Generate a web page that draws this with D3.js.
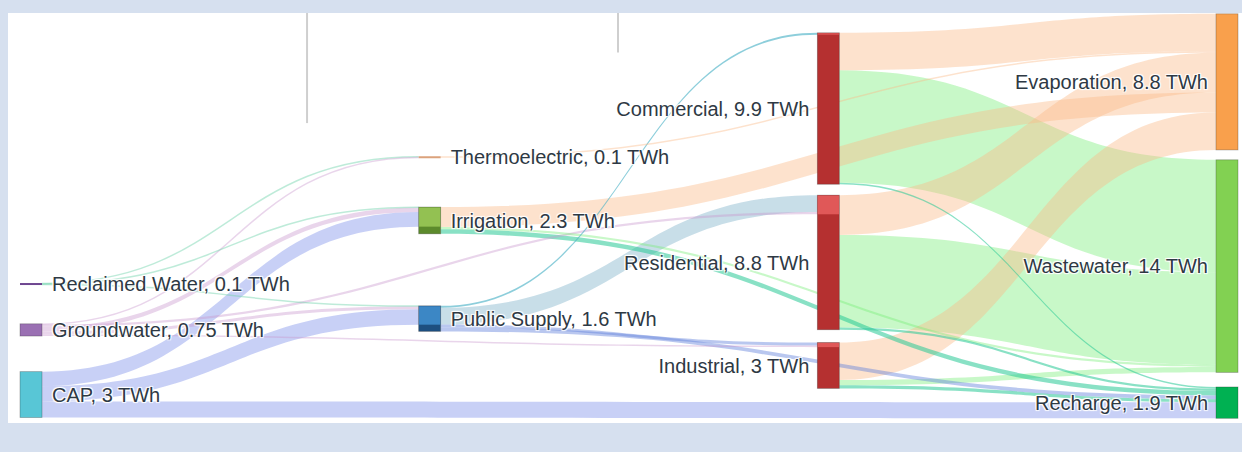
<!DOCTYPE html>
<html>
<head>
<meta charset="utf-8">
<script src="https://cdn.jsdelivr.net/npm/d3@7"></script>
<style>
  html, body { margin: 0; padding: 0; background: #d6e0ef; }
  svg { display: block; }
  .lbl { font-family: "Liberation Sans", Arial, sans-serif; font-size: 20px; fill: #2e3944;
         text-shadow: 1px 1px 1px #fff, -1px -1px 1px #fff, 1px -1px 1px #fff, -1px 1px 1px #fff; }
</style>
</head>
<body>
<svg id="chart" width="1242" height="452"></svg>
<script>
// ---------------- DATA ----------------
const nodeNames = ["Reclaimed Water", "Groundwater", "CAP", "Thermoelectric", "Irrigation", "Public Supply",
                   "Commercial", "Residential", "Industrial", "Evaporation", "Wastewater", "Recharge"];
const nodeValueLabels = ["0.1", "0.75", "3", "0.1", "2.3", "1.6", "9.9", "8.8", "3", "8.8", "14", "1.9"];
const unit = "TWh";

const linkSource = ["Reclaimed Water", "Reclaimed Water", "Reclaimed Water",
                    "Groundwater", "Groundwater", "Groundwater", "Groundwater", "Groundwater",
                    "CAP", "CAP", "CAP",
                    "Thermoelectric",
                    "Irrigation", "Irrigation", "Irrigation",
                    "Public Supply", "Public Supply", "Public Supply", "Public Supply",
                    "Commercial", "Commercial", "Commercial",
                    "Residential", "Residential", "Residential",
                    "Industrial", "Industrial", "Industrial"];
const linkTarget = ["Thermoelectric", "Irrigation", "Public Supply",
                    "Thermoelectric", "Irrigation", "Public Supply", "Residential", "Industrial",
                    "Irrigation", "Public Supply", "Recharge",
                    "Evaporation",
                    "Evaporation", "Wastewater", "Recharge",
                    "Commercial", "Residential", "Industrial", "Recharge",
                    "Evaporation", "Wastewater", "Recharge",
                    "Evaporation", "Wastewater", "Recharge",
                    "Evaporation", "Wastewater", "Recharge"];
const linkValue  = [0.05, 0.03, 0.03,
                    0.05, 0.30, 0.20, 0.15, 0.10,
                    0.95, 1.00, 1.05,
                    0.10,
                    1.30, 0.15, 0.30,
                    0.12, 1.10, 0.20, 0.25,
                    2.45, 7.35, 0.10,
                    2.60, 6.05, 0.15,
                    2.45, 0.35, 0.20];

// ---------------- LAYOUT (fixed arrangement, node centres as fractions, like Plotly node.y) ----------------
const nodeYFrac = {
  "Reclaimed Water": 0.668, "Groundwater": 0.782, "CAP": 0.942,
  "Thermoelectric": 0.354, "Irrigation": 0.511, "Public Supply": 0.754,
  "Commercial": 0.234, "Residential": 0.615, "Industrial": 0.870,
  "Evaporation": 0.168, "Wastewater": 0.624, "Recharge": 0.962
};
const W = 1242, H = 452;
const plot = { left: 20, right: 1238, top: 14, bottom: 418 };
const nodeWidth = 22, nodePad = 12;

// ---------------- STYLES ----------------
const nodeColor = {
  "Reclaimed Water": ["#6e4690", "#6e4690"], "Groundwater": ["#9a70b3", "#9a70b3"], "CAP": ["#58c6d6", "#58c6d6"],
  "Thermoelectric": ["#dba27c", "#dba27c"], "Irrigation": ["#93c152", "#5c8a2c"], "Public Supply": ["#3c87c5", "#1d4f80"],
  "Commercial": ["#e05858", "#b53030"], "Residential": ["#e05858", "#b53030"], "Industrial": ["#e05858", "#b53030"],
  "Evaporation": ["#f9a04c", "#f9a04c"], "Wastewater": ["#82d152", "#82d152"], "Recharge": ["#00b152", "#00b152"]
};
function linkColor(l) {
  const s = l.source.name, t = l.target.name;
  if (t === "Evaporation") return "rgba(250,185,137,0.42)";
  if (t === "Wastewater") return "rgba(117,237,117,0.40)";
  if (s === "CAP") return "rgba(117,137,232,0.40)";
  if (s === "Groundwater") return "rgba(200,150,205,0.40)";
  if (s === "Reclaimed Water") return "rgba(110,210,170,0.45)";
  if (s === "Public Supply" && t === "Residential") return "rgba(117,172,197,0.40)";
  if (s === "Public Supply" && t === "Commercial") return "rgba(80,180,200,0.65)";
  if (s === "Public Supply") return "rgba(100,130,220,0.45)";
  if (t === "Recharge") return "rgba(40,200,150,0.55)";
  return "rgba(150,150,150,0.4)";
}

// ---------------- BUILD GRAPH ----------------
const nodes = nodeNames.map((name, i) => ({ name, label: `${name}, ${nodeValueLabels[i]} ${unit}`, sourceLinks: [], targetLinks: [] }));
const byName = new Map(nodes.map(n => [n.name, n]));
const links = linkValue.map((v, i) => ({ source: byName.get(linkSource[i]), target: byName.get(linkTarget[i]), value: v, index: i }));
links.forEach(l => { l.source.sourceLinks.push(l); l.target.targetLinks.push(l); });
nodes.forEach(n => {
  n.inValue = d3.sum(n.targetLinks, l => l.value);
  n.outValue = d3.sum(n.sourceLinks, l => l.value);
  n.value = Math.max(n.inValue, n.outValue);
});
// depth = longest path from a source
nodes.forEach(n => n.depth = 0);
for (let k = 0; k < nodes.length; k++) {
  links.forEach(l => { if (l.target.depth < l.source.depth + 1) l.target.depth = l.source.depth + 1; });
}
const maxDepth = d3.max(nodes, n => n.depth);
nodes.forEach(n => { if (!n.sourceLinks.length) n.depth = maxDepth; });

const columns = d3.groups(nodes, n => n.depth).map(d => d[1]);
const maxColTotal = d3.max(columns, c => d3.sum(c, n => n.value));
const maxColCount = d3.max(columns, c => c.length);

const x = d3.scaleLinear().domain([0, maxDepth]).range([plot.left, plot.right - nodeWidth]);
const yFrac = d3.scaleLinear().domain([0, 1]).range([plot.top, plot.bottom]);
const ky = d3.scaleLinear().domain([0, maxColTotal]).range([0, (plot.bottom - plot.top) - (maxColCount - 1) * nodePad]);

nodes.forEach(n => {
  const h = ky(n.value);
  const c = yFrac(nodeYFrac[n.name]);
  n.x0 = x(n.depth); n.x1 = n.x0 + nodeWidth;
  n.y0 = c - h / 2; n.y1 = c + h / 2;
});
links.forEach(l => l.width = ky(l.value));
nodes.forEach(n => {
  n.sourceLinks.sort((a, b) => (a.target.y0 - b.target.y0) || (a.index - b.index));
  n.targetLinks.sort((a, b) => (a.source.y0 - b.source.y0) || (a.index - b.index));
  let y = n.y0;
  n.sourceLinks.forEach(l => { l.sy0 = y; y += l.width; });
  y = n.y0;
  n.targetLinks.forEach(l => { l.ty0 = y; y += l.width; });
});

// ---------------- DRAW ----------------
const svg = d3.select("#chart");
svg.append("rect").attr("x", 0).attr("y", 0).attr("width", W).attr("height", H).attr("fill", "#d6e0ef");
svg.append("rect").attr("x", 8).attr("y", 13).attr("width", W - 8).attr("height", 410).attr("fill", "#ffffff");

// faint vertical guide lines seen in the original screenshot
const guides = [[0.72, 0.27], [1.5, 0.095]];
svg.append("g").selectAll("line").data(guides).join("line")
  .attr("x1", d => x(d[0])).attr("x2", d => x(d[0]))
  .attr("y1", 13).attr("y2", d => yFrac(d[1]))
  .attr("stroke", "#cfcfcf").attr("stroke-width", 2);

const curvature = 0.5;
function ribbon(l) {
  const x0 = l.source.x1, x1 = l.target.x0;
  const xa = x0 + (x1 - x0) * curvature, xb = x1 - (x1 - x0) * curvature;
  const s0 = l.sy0, s1 = l.sy0 + l.width, t0 = l.ty0, t1 = l.ty0 + l.width;
  const p = d3.path();
  p.moveTo(x0, s0);
  p.bezierCurveTo(xa, s0, xb, t0, x1, t0);
  p.lineTo(x1, t1);
  p.bezierCurveTo(xb, t1, xa, s1, x0, s1);
  p.closePath();
  return p.toString();
}
function centerLine(l) {
  const x0 = l.source.x1, x1 = l.target.x0;
  const xa = x0 + (x1 - x0) * curvature, xb = x1 - (x1 - x0) * curvature;
  const s = l.sy0 + l.width / 2, t = l.ty0 + l.width / 2;
  const p = d3.path();
  p.moveTo(x0, s);
  p.bezierCurveTo(xa, s, xb, t, x1, t);
  return p.toString();
}

const linkG = svg.append("g");
const sortedLinks = links.slice().sort((a, b) => b.value - a.value);
linkG.selectAll("path.band").data(sortedLinks.filter(l => l.width >= 1.4)).join("path")
  .attr("class", "band").attr("d", ribbon).attr("fill", linkColor).attr("stroke", "none");
linkG.selectAll("path.thin").data(sortedLinks.filter(l => l.width < 1.4)).join("path")
  .attr("class", "thin").attr("d", centerLine).attr("fill", "none")
  .attr("stroke", linkColor).attr("stroke-width", 1.5);

// nodes
const nodeG = svg.append("g");
const ng = nodeG.selectAll("g").data(nodes).join("g");
ng.append("rect")
  .attr("x", d => d.x0).attr("width", nodeWidth)
  .attr("y", d => d.y0).attr("height", d => Math.max(2, d.y1 - d.y0))
  .attr("fill", d => (d.inValue > 0 && d.outValue > d.inValue) ? nodeColor[d.name][1] : nodeColor[d.name][0])
  .attr("stroke", d => (d.y1 - d.y0) > 3 ? "rgba(40,40,40,0.35)" : "none").attr("stroke-width", 0.8);
// portion of the node covered by inflow, when outflow exceeds it
ng.filter(d => d.inValue > 0 && d.outValue > d.inValue)
  .append("rect")
  .attr("x", d => d.x0 + 0.4).attr("width", nodeWidth - 0.8)
  .attr("y", d => d.y0 + 0.4).attr("height", d => Math.max(0, ky(d.inValue) - 0.4))
  .attr("fill", d => nodeColor[d.name][0]);

// labels
const half = maxDepth / 2;
svg.append("g").selectAll("text").data(nodes).join("text")
  .attr("class", "lbl")
  .attr("x", d => d.depth < half ? d.x1 + 10 : d.x0 - 8)
  .attr("y", d => (d.y0 + d.y1) / 2)
  .attr("dy", "0.36em")
  .attr("text-anchor", d => d.depth < half ? "start" : "end")
  .text(d => d.label);
</script>
</body>
</html>
